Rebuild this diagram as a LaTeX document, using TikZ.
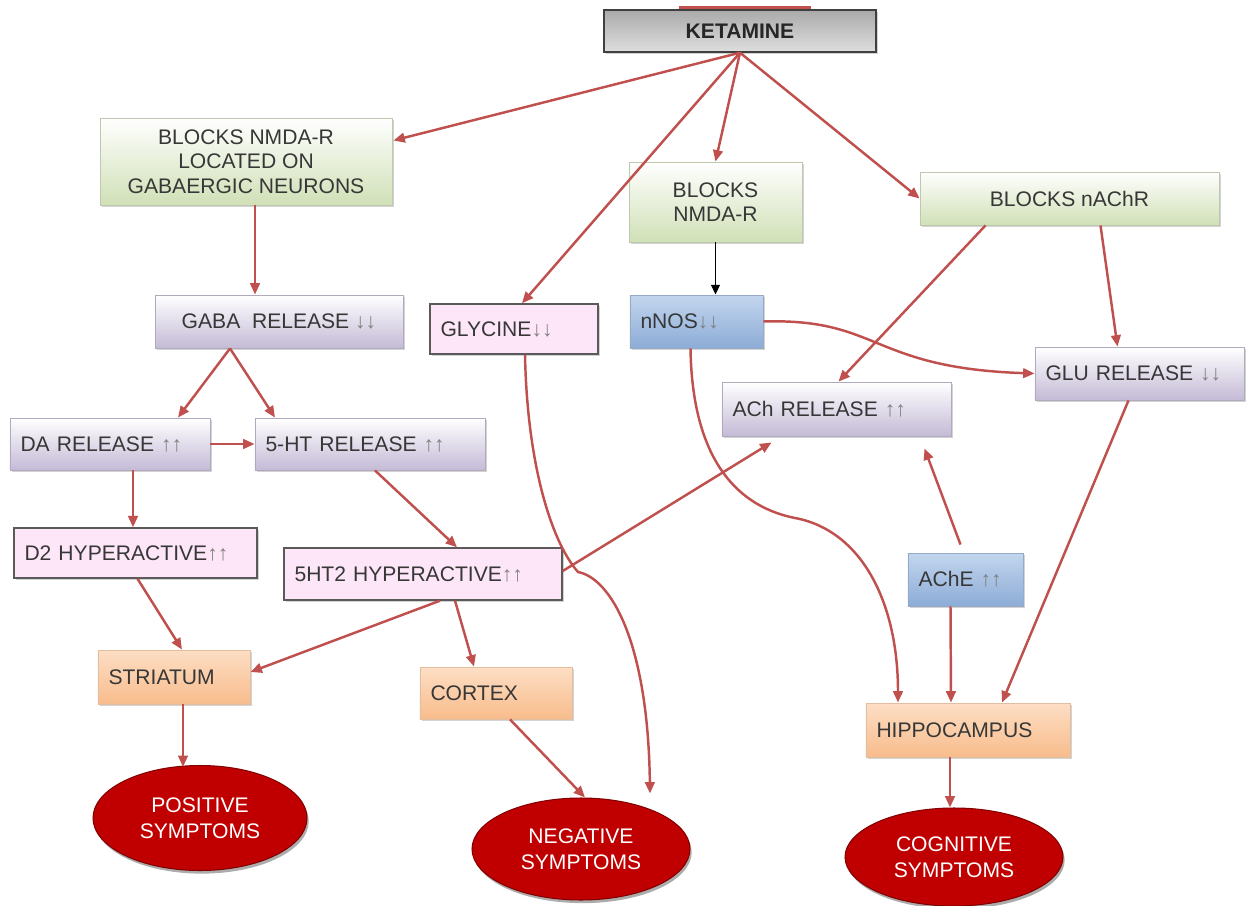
\documentclass[tikz,border=0pt]{standalone}
\usepackage{fontspec}
\setmainfont{Liberation Sans}
\usetikzlibrary{arrows.meta,shapes.geometric,shadows,calc}
\definecolor{ared}{RGB}{192,80,77}
\definecolor{txt}{RGB}{55,55,55}
\definecolor{grnB}{RGB}{208,224,182}
\definecolor{grnD}{RGB}{190,200,175}
\definecolor{lavB}{RGB}{196,186,214}
\definecolor{lavD}{RGB}{175,170,190}
\definecolor{bluT}{RGB}{195,214,238}
\definecolor{bluB}{RGB}{140,172,215}
\definecolor{bluD}{RGB}{150,170,200}
\definecolor{orT}{RGB}{253,222,196}
\definecolor{orB}{RGB}{248,188,140}
\definecolor{orD}{RGB}{225,190,160}
\definecolor{pnk}{RGB}{253,230,248}
\definecolor{pnkD}{RGB}{90,90,90}
\definecolor{ketT}{RGB}{170,170,170}
\definecolor{ketB}{RGB}{222,222,222}
\definecolor{elF}{RGB}{192,0,0}
\definecolor{elD}{RGB}{130,0,0}
\newcommand\mydn{{\color{gray}↓↓}}
\newcommand\myup{{\color{gray}↑↑}}
\tikzset{
  sh/.style={drop shadow={shadow xshift=0.9pt,shadow yshift=-1.3pt,opacity=0.35}},
  base/.style={rectangle, sh, text=txt, font=\fontsize{12}{14}\selectfont, inner xsep=6pt, inner ysep=2pt, line width=0.5pt},
  grnbox/.style={base, draw=grnD, top color=white, bottom color=grnB, align=center},
  lavbox/.style={base, draw=lavD, top color=white, bottom color=lavB},
  blubox/.style={base, draw=bluD, top color=bluT, bottom color=bluB},
  orbox/.style={base, draw=orD, top color=orT, bottom color=orB},
  pnkbox/.style={base, draw=pnkD, fill=pnk, line width=0.8pt},
  ketbox/.style={base, draw=black!75, top color=ketT, bottom color=ketB, line width=0.8pt, align=center, text=black!85},
  sym/.style={ellipse, draw=elD, fill=elF, line width=0.6pt, text=white, align=center, inner sep=0pt,
    font=\fontsize{12}{15}\selectfont, drop shadow={shadow xshift=1pt,shadow yshift=-1.8pt,opacity=0.65}},
  ed/.style={draw=ared, line width=1.4pt, -{Triangle[length=6.5pt,width=5.5pt]}},
  blk/.style={draw=black, line width=0.8pt, -{Triangle[length=5.5pt,width=5pt]}},
}
\begin{document}
\begin{tikzpicture}[x=0.02cm,y=-0.02cm]
\useasboundingbox (0,0) rectangle (1248,906);

% nodes
\node[ketbox, minimum width=5.44cm, minimum height=0.84cm] (K) at (740,31) {\textbf{KETAMINE}};
\node[grnbox, minimum width=5.84cm, minimum height=1.74cm] (BG) at (246,161.5) {BLOCKS NMDA-R\\LOCATED ON\\GABAERGIC NEURONS};
\node[grnbox, minimum width=3.46cm, minimum height=1.6cm] (BN) at (715.5,202) {BLOCKS\\NMDA-R};
\node[grnbox, minimum width=5.98cm, minimum height=1.06cm] (BA) at (1069.5,198.5) {BLOCKS nAChR};
\node[lavbox, align=center, minimum width=4.96cm, minimum height=1.06cm] (GR) at (279,321.5) {GABA\ \ RELEASE \mydn};
\node[pnkbox, text width=2.94cm, align=left, minimum width=3.36cm, minimum height=1.0cm] (GLY) at (514,329) {GLYCINE\mydn};
\node[blubox, text width=2.24cm, align=left, minimum width=2.66cm, minimum height=1.06cm] (NNOS) at (696.5,321.5) {nNOS\mydn};
\node[lavbox, text width=3.76cm, align=left, minimum width=4.18cm, minimum height=1.06cm] (GLU) at (1139.5,373.5) {GLU RELEASE \mydn};
\node[lavbox, text width=4.16cm, align=left, minimum width=4.58cm, minimum height=1.08cm] (ACH) at (836.5,409) {ACh RELEASE \myup};
\node[lavbox, text width=3.58cm, align=left, minimum width=4.0cm, minimum height=1.04cm] (DA) at (110,444) {DA RELEASE \myup};
\node[lavbox, text width=4.18cm, align=left, minimum width=4.6cm, minimum height=1.04cm] (HT) at (370,444) {5-HT RELEASE \myup};
\node[pnkbox, text width=4.44cm, align=left, minimum width=4.86cm, minimum height=1.0cm] (D2) at (135.5,553) {D2 HYPERACTIVE\myup};
\node[pnkbox, text width=5.14cm, align=left, minimum width=5.56cm, minimum height=1.04cm] (HT2) at (423,574) {5HT2 HYPERACTIVE\myup};
\node[blubox, text width=1.88cm, align=left, minimum width=2.3cm, minimum height=1.06cm] (ACHE) at (965.5,579.5) {AChE \myup};
\node[orbox, text width=2.62cm, align=left, minimum width=3.04cm, minimum height=1.08cm] (STR) at (174,677) {STRIATUM};
\node[orbox, text width=2.62cm, align=left, minimum width=3.04cm, minimum height=1.04cm] (CTX) at (496,693) {CORTEX};
\node[orbox, text width=3.66cm, align=left, minimum width=4.08cm, minimum height=1.08cm] (HIP) at (968,730) {HIPPOCAMPUS};
\node[sym, minimum width=4.28cm, minimum height=2.1cm] (POS) at (200,818) {POSITIVE\\SYMPTOMS};
\node[sym, minimum width=4.36cm, minimum height=2.04cm] (NEG) at (581,849) {NEGATIVE\\SYMPTOMS};
\node[sym, minimum width=4.36cm, minimum height=1.96cm] (COG) at (954,857) {COGNITIVE\\SYMPTOMS};

% top red stroke
\draw[draw=ared, line width=1.6pt] ($(K.north west)+(76,-2)$) -- ($(K.north east)+(-66,-2)$);

% connectors
\draw[ed] (K.south) -- ($(BG.east)+(1,-21)$);
\draw[ed] (K.south) -- ($(GLY.north)+(8,0)$);
\draw[ed] (K.south) -- (BN.north);
\draw[ed] (K.south) -- (BA.west);
\draw[ed] ($(BG.south)+(9,0)$) -- ($(GR.north)+(-24,0)$);
\draw[blk] (BN.south) -- (BN.south |- NNOS.north);
\draw[ed] ($(GR.south)+(-49,0)$) -- ($(DA.north)+(68,0)$);
\draw[ed] ($(GR.south)+(-49,0)$) -- ($(HT.north)+(-95,0)$);
\draw[ed] (DA.east) -- (HT.west);
\draw[ed] ($(DA.south)+(23,0)$) -- ($(D2.north)+(-2.5,0)$);
\draw[ed] ($(HT.south)+(5,0)$) -- ($(HT2.north)+(34,0)$);
\draw[ed] ($(D2.south)+(2,0)$) -- ($(STR.north)+(8,0)$);
\draw[ed] ($(HT2.south)+(17,0)$) -- ($(STR.east)+(0,-5)$);
\draw[ed] ($(HT2.south)+(32,0)$) -- ($(CTX.north)+(-22,0)$);
\draw[ed] ($(HT2.east)+(0,-3)$) -- ($(ACH.south)+(-65,6)$);
\draw[ed] ($(STR.south)+(9,0)$) -- ($(POS.north)+(-17,2)$);
\draw[ed] ($(CTX.south)+(14,0)$) -- ($(NEG.north)+(4,0)$);
\draw[ed] ($(GLY.south)+(11,0)$) .. controls (527,460) and (550,540) .. (578,572) .. controls (610,578) and (648,640) .. ($(NEG.north)+(69,-4)$);
\draw[ed] ($(NNOS.south)+(-6,0)$) .. controls (692,450) and (730,505) .. (795,518) .. controls (860,530) and (898,600) .. ($(HIP.north)+(-70,0)$);
\draw[ed] (NNOS.east) .. controls (880,318) and (870,368) .. (GLU.west);
\draw[ed] ($(BA.south)+(-84,0)$) -- ($(ACH.north)+(2,0)$);
\draw[ed] ($(BA.south)+(31,0)$) -- ($(GLU.north)+(-22,0)$);
\draw[ed] ($(ACHE.north)+(-5,-8)$) -- ($(ACH.south)+(88,12)$);
\draw[ed] ($(ACHE.south)+(-15,0)$) -- ($(HIP.north)+(-17,0)$);
\draw[ed] ($(GLU.south)+(-11,0)$) -- ($(HIP.north)+(34,0)$);
\draw[ed] ($(HIP.south)+(-18,0)$) -- ($(COG.north)+(-4,0)$);
\end{tikzpicture}
\end{document}
